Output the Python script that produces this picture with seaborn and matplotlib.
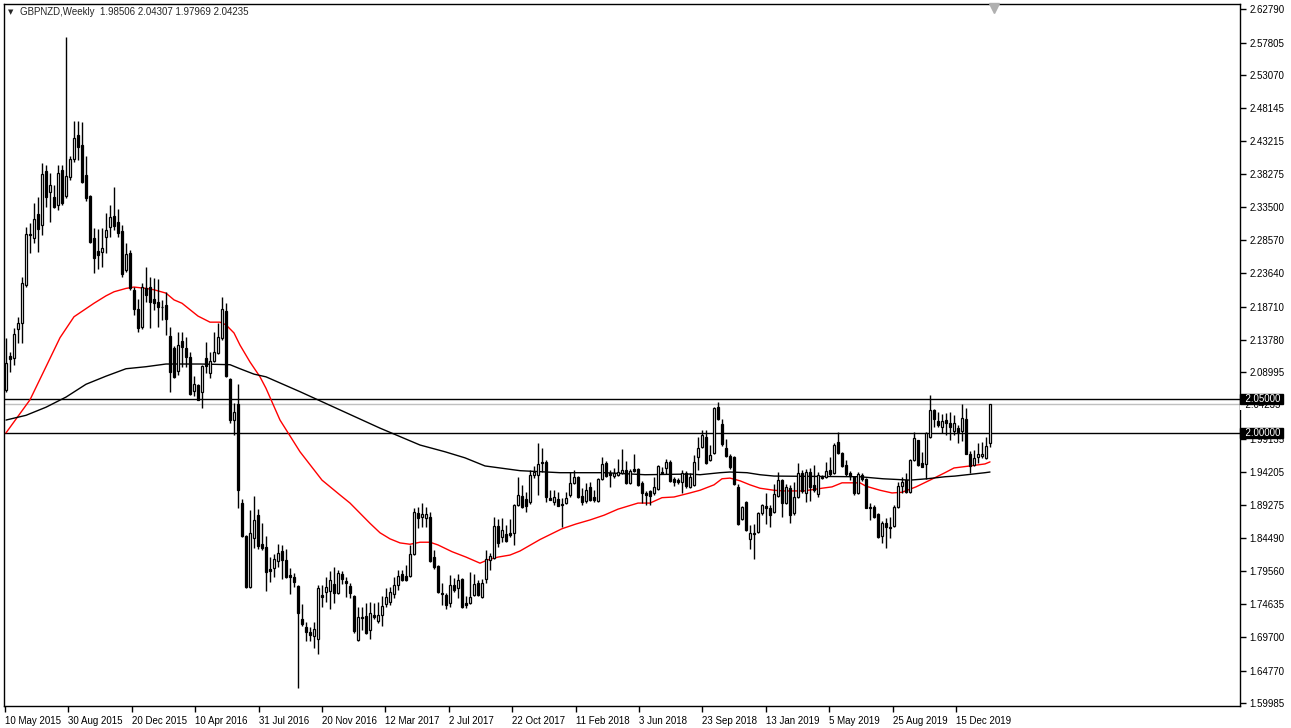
import numpy as np
import matplotlib
matplotlib.use("Agg")
import matplotlib.pyplot as plt
import matplotlib.transforms as mtransforms
import seaborn as sns

# weekly GBPNZD candles, first week 10 May 2015
opens = [
    2.064, 2.114, 2.111, 2.154, 2.163, 2.219, 2.295, 2.289, 2.324, 2.308,
    2.388, 2.357, 2.349, 2.338, 2.389, 2.351, 2.379, 2.406, 2.441, 2.426,
    2.382, 2.351, 2.289, 2.269, 2.268, 2.290, 2.305, 2.321, 2.312, 2.299,
    2.241, 2.266, 2.212, 2.184, 2.157, 2.215, 2.216, 2.198, 2.194, 2.187,
    2.189, 2.144, 2.126, 2.092, 2.136, 2.126, 2.112, 2.062, 2.071, 2.061,
    2.111, 2.089, 2.106, 2.118, 2.141, 2.181, 2.080, 2.019, 2.043, 1.896,
    1.847, 1.772, 1.844, 1.878, 1.835, 1.831, 1.798, 1.800, 1.810, 1.825,
    1.812, 1.790, 1.787, 1.773, 1.724, 1.713, 1.705, 1.699, 1.695, 1.760,
    1.764, 1.766, 1.776, 1.763, 1.791, 1.781, 1.773, 1.758, 1.693, 1.727,
    1.729, 1.708, 1.730, 1.721, 1.730, 1.747, 1.750, 1.761, 1.775, 1.791,
    1.788, 1.788, 1.821, 1.881, 1.875, 1.874, 1.875, 1.816, 1.803, 1.763,
    1.760, 1.748, 1.775, 1.770, 1.784, 1.748, 1.748, 1.760, 1.778, 1.757,
    1.784, 1.812, 1.815, 1.862, 1.846, 1.850, 1.852, 1.852, 1.893, 1.907,
    1.902, 1.898, 1.938, 1.938, 1.957, 1.957, 1.904, 1.898, 1.902, 1.895,
    1.896, 1.908, 1.926, 1.935, 1.907, 1.899, 1.920, 1.905, 1.899, 1.932,
    1.955, 1.941, 1.936, 1.938, 1.941, 1.945, 1.926, 1.946, 1.946, 1.926,
    1.911, 1.914, 1.911, 1.917, 1.942, 1.948, 1.957, 1.932, 1.930, 1.927,
    1.941, 1.920, 1.923, 1.964, 1.979, 1.994, 1.960, 1.970, 2.038, 2.013,
    1.978, 1.966, 1.964, 1.920, 1.872, 1.898, 1.843, 1.852, 1.853, 1.881,
    1.892, 1.889, 1.883, 1.907, 1.930, 1.896, 1.918, 1.881, 1.905, 1.941,
    1.911, 1.942, 1.923, 1.910, 1.935, 1.935, 1.945, 1.941, 1.987, 1.970,
    1.952, 1.941, 1.935, 1.911, 1.938, 1.932, 1.890, 1.890, 1.880, 1.847,
    1.866, 1.861, 1.862, 1.890, 1.921, 1.930, 1.912, 1.960, 1.989, 1.955,
    1.954, 1.994, 2.034, 2.018, 2.009, 2.019, 2.015, 2.003, 2.007, 2.003,
    2.021, 1.969, 1.952, 1.964, 1.966, 1.963, 1.98506,
]
highs = [
    2.141, 2.120, 2.155, 2.172, 2.231, 2.305, 2.311, 2.341, 2.349, 2.400,
    2.397, 2.385, 2.367, 2.397, 2.397, 2.586, 2.410, 2.462, 2.462, 2.461,
    2.410, 2.352, 2.304, 2.302, 2.304, 2.326, 2.338, 2.364, 2.332, 2.308,
    2.281, 2.271, 2.216, 2.198, 2.222, 2.246, 2.231, 2.229, 2.228, 2.197,
    2.209, 2.157, 2.129, 2.149, 2.149, 2.142, 2.120, 2.084, 2.073, 2.101,
    2.135, 2.120, 2.149, 2.163, 2.201, 2.192, 2.081, 2.044, 2.072, 1.902,
    1.848, 1.886, 1.907, 1.887, 1.867, 1.847, 1.816, 1.821, 1.835, 1.834,
    1.828, 1.800, 1.792, 1.775, 1.747, 1.720, 1.713, 1.720, 1.775, 1.775,
    1.787, 1.795, 1.801, 1.797, 1.795, 1.787, 1.778, 1.760, 1.742, 1.742,
    1.748, 1.750, 1.748, 1.750, 1.758, 1.770, 1.772, 1.787, 1.797, 1.797,
    1.804, 1.834, 1.889, 1.890, 1.896, 1.890, 1.883, 1.826, 1.805, 1.778,
    1.763, 1.790, 1.785, 1.791, 1.785, 1.758, 1.794, 1.791, 1.782, 1.784,
    1.826, 1.822, 1.875, 1.872, 1.874, 1.864, 1.872, 1.895, 1.935, 1.923,
    1.913, 1.945, 1.951, 1.985, 1.978, 1.960, 1.915, 1.915, 1.913, 1.904,
    1.913, 1.942, 1.945, 1.936, 1.918, 1.926, 1.927, 1.915, 1.933, 1.964,
    1.958, 1.945, 1.948, 1.961, 1.976, 1.958, 1.946, 1.969, 1.948, 1.928,
    1.914, 1.915, 1.935, 1.952, 1.949, 1.961, 1.960, 1.935, 1.933, 1.945,
    1.943, 1.940, 1.967, 1.994, 2.004, 2.004, 1.982, 2.038, 2.046, 2.021,
    1.991, 1.969, 1.966, 1.924, 1.891, 1.899, 1.864, 1.865, 1.883, 1.895,
    1.911, 1.893, 1.924, 1.942, 1.932, 1.924, 1.923, 1.927, 1.955, 1.945,
    1.946, 1.948, 1.952, 1.942, 1.938, 1.957, 1.964, 1.985, 2.001, 1.972,
    1.960, 1.944, 1.936, 1.942, 1.941, 1.933, 1.896, 1.893, 1.881, 1.869,
    1.874, 1.875, 1.893, 1.927, 1.935, 1.941, 1.961, 2.001, 1.990, 1.972,
    2.001, 2.056, 2.035, 2.031, 2.028, 2.030, 2.031, 2.027, 2.012, 2.043,
    2.037, 1.973, 1.975, 1.985, 1.986, 1.994, 2.04307,
]
lows = [
    2.061, 2.090, 2.101, 2.133, 2.133, 2.216, 2.266, 2.281, 2.268, 2.293,
    2.335, 2.312, 2.333, 2.330, 2.338, 2.348, 2.375, 2.401, 2.404, 2.370,
    2.343, 2.281, 2.237, 2.243, 2.246, 2.266, 2.290, 2.301, 2.290, 2.231,
    2.238, 2.212, 2.175, 2.149, 2.154, 2.194, 2.155, 2.182, 2.157, 2.167,
    2.145, 2.061, 2.081, 2.086, 2.098, 2.098, 2.056, 2.055, 2.048, 2.037,
    2.089, 2.081, 2.105, 2.117, 2.138, 2.083, 2.015, 1.997, 1.889, 1.846,
    1.770, 1.770, 1.829, 1.828, 1.827, 1.766, 1.779, 1.787, 1.801, 1.784,
    1.785, 1.761, 1.772, 1.622, 1.714, 1.692, 1.692, 1.681, 1.672, 1.742,
    1.750, 1.739, 1.748, 1.762, 1.776, 1.757, 1.755, 1.704, 1.692, 1.708,
    1.702, 1.695, 1.725, 1.719, 1.714, 1.742, 1.745, 1.755, 1.767, 1.780,
    1.780, 1.787, 1.819, 1.859, 1.861, 1.861, 1.808, 1.799, 1.763, 1.745,
    1.739, 1.742, 1.765, 1.755, 1.740, 1.741, 1.746, 1.758, 1.759, 1.756,
    1.778, 1.797, 1.813, 1.831, 1.838, 1.838, 1.846, 1.834, 1.891, 1.888,
    1.883, 1.895, 1.933, 1.908, 1.942, 1.898, 1.900, 1.893, 1.891, 1.861,
    1.895, 1.905, 1.924, 1.903, 1.893, 1.896, 1.899, 1.898, 1.898, 1.930,
    1.934, 1.920, 1.933, 1.936, 1.939, 1.924, 1.924, 1.942, 1.921, 1.896,
    1.893, 1.893, 1.908, 1.916, 1.939, 1.939, 1.927, 1.921, 1.924, 1.911,
    1.919, 1.918, 1.922, 1.945, 1.977, 1.954, 1.958, 1.968, 2.019, 1.981,
    1.964, 1.946, 1.923, 1.863, 1.871, 1.855, 1.828, 1.813, 1.851, 1.878,
    1.865, 1.861, 1.881, 1.905, 1.875, 1.894, 1.866, 1.878, 1.903, 1.911,
    1.898, 1.899, 1.913, 1.905, 1.931, 1.933, 1.936, 1.939, 1.969, 1.949,
    1.936, 1.930, 1.908, 1.910, 1.928, 1.888, 1.871, 1.874, 1.845, 1.837,
    1.829, 1.844, 1.860, 1.888, 1.911, 1.911, 1.911, 1.958, 1.951, 1.949,
    1.932, 1.993, 2.009, 2.008, 2.000, 1.997, 1.990, 1.997, 1.985, 1.988,
    1.968, 1.941, 1.951, 1.955, 1.963, 1.961, 1.97969,
]
closes = [
    2.104, 2.110, 2.147, 2.163, 2.222, 2.295, 2.293, 2.317, 2.302, 2.383,
    2.349, 2.367, 2.335, 2.385, 2.341, 2.381, 2.406, 2.437, 2.424, 2.372,
    2.348, 2.283, 2.259, 2.264, 2.274, 2.301, 2.320, 2.306, 2.296, 2.235,
    2.265, 2.215, 2.184, 2.155, 2.216, 2.204, 2.194, 2.192, 2.186, 2.186,
    2.169, 2.090, 2.083, 2.130, 2.127, 2.112, 2.058, 2.072, 2.049, 2.099,
    2.099, 2.106, 2.120, 2.142, 2.184, 2.084, 2.019, 2.031, 1.915, 1.847,
    1.772, 1.852, 1.871, 1.832, 1.829, 1.794, 1.795, 1.813, 1.822, 1.812,
    1.787, 1.787, 1.779, 1.733, 1.717, 1.705, 1.701, 1.709, 1.770, 1.757,
    1.772, 1.782, 1.763, 1.792, 1.784, 1.778, 1.763, 1.707, 1.727, 1.726,
    1.704, 1.733, 1.727, 1.730, 1.743, 1.757, 1.764, 1.775, 1.788, 1.782,
    1.782, 1.821, 1.883, 1.874, 1.880, 1.880, 1.810, 1.801, 1.764, 1.761,
    1.745, 1.775, 1.767, 1.782, 1.742, 1.745, 1.757, 1.776, 1.760, 1.778,
    1.813, 1.818, 1.862, 1.837, 1.856, 1.840, 1.849, 1.893, 1.908, 1.890,
    1.892, 1.938, 1.942, 1.954, 1.956, 1.905, 1.901, 1.905, 1.892, 1.893,
    1.904, 1.926, 1.935, 1.905, 1.898, 1.915, 1.901, 1.901, 1.932, 1.954,
    1.936, 1.938, 1.941, 1.942, 1.945, 1.926, 1.944, 1.944, 1.923, 1.911,
    1.908, 1.906, 1.920, 1.951, 1.941, 1.957, 1.929, 1.927, 1.927, 1.941,
    1.921, 1.935, 1.957, 1.978, 1.997, 1.955, 1.967, 2.037, 2.021, 1.984,
    1.966, 1.950, 1.924, 1.865, 1.890, 1.856, 1.852, 1.850, 1.881, 1.893,
    1.889, 1.878, 1.910, 1.930, 1.896, 1.920, 1.878, 1.905, 1.941, 1.914,
    1.942, 1.920, 1.915, 1.938, 1.933, 1.944, 1.939, 1.982, 1.970, 1.951,
    1.939, 1.936, 1.911, 1.939, 1.932, 1.889, 1.889, 1.875, 1.846, 1.866,
    1.861, 1.859, 1.890, 1.921, 1.927, 1.912, 1.960, 1.992, 1.952, 1.950,
    2.000, 2.034, 2.021, 2.012, 2.018, 2.015, 2.009, 2.015, 2.001, 2.022,
    1.969, 1.951, 1.963, 1.969, 1.969, 1.980, 2.04235,
]

# moving averages (week number, price)
ma_red_week = [0, 6, 10, 13.5, 17, 20, 22, 25, 27, 30, 32, 35, 37, 40, 42, 44, 48, 51,
               53.5, 55, 57, 58.5, 61, 63.5, 65, 68.5, 73.5, 79, 83.5, 86, 88.5,
               91, 93.5, 96, 98.5, 101, 103.5, 106, 108, 111.5, 115, 118.5, 120.5,
               123, 126, 128.5, 133.5, 139, 142.5, 146, 149.5, 153, 158, 161, 164,
               167, 171, 173.5, 177, 179, 181, 183.5, 186, 188.5, 192, 194.5,
               199.5, 204, 206.5, 209, 213.5, 215, 218.5, 221.5, 224, 227.5, 231,
               234.75, 237, 241, 244.75, 246]
ma_red = [2.000, 2.049, 2.098, 2.141, 2.172, 2.184, 2.192, 2.203, 2.209, 2.214,
          2.216, 2.214, 2.212, 2.207, 2.197, 2.192, 2.173, 2.164, 2.164, 2.160,
          2.148, 2.130, 2.105, 2.083, 2.066, 2.019, 1.972, 1.930, 1.908, 1.896,
          1.881, 1.866, 1.852, 1.843, 1.837, 1.835, 1.838, 1.838, 1.834, 1.824,
          1.816, 1.807, 1.812, 1.816, 1.819, 1.825, 1.842, 1.858, 1.865, 1.871,
          1.878, 1.887, 1.896, 1.896, 1.904, 1.905, 1.911, 1.915, 1.923, 1.932,
          1.933, 1.929, 1.923, 1.918, 1.915, 1.914, 1.914, 1.918, 1.920, 1.926,
          1.926, 1.921, 1.915, 1.911, 1.912, 1.920, 1.930, 1.941, 1.948, 1.951,
          1.954, 1.957]
ma_black_week = [0, 5, 10, 15, 20, 25, 30, 35, 40, 48.5, 56, 58.5, 62, 65, 73.5,
                 83.5, 93.5, 103.5, 109.75, 114.75, 119.75, 124.75, 128.5, 138.5,
                 149.75, 159.75, 171, 173.5, 178.5, 181, 185.25, 188.5, 192, 213.5,
                 219.25, 226, 230.25, 234.75, 237.25, 244.75, 246]
ma_black = [2.019, 2.026, 2.038, 2.053, 2.072, 2.084, 2.095, 2.098, 2.102, 2.102,
            2.101, 2.095, 2.087, 2.083, 2.061, 2.034, 2.007, 1.982, 1.972, 1.963,
            1.951, 1.947, 1.944, 1.941, 1.941, 1.938, 1.939, 1.938, 1.941, 1.942,
            1.941, 1.938, 1.936, 1.935, 1.932, 1.930, 1.932, 1.935, 1.936, 1.941,
            1.942]

date_labels = ["10 May 2015", "30 Aug 2015", "20 Dec 2015", "10 Apr 2016",
               "31 Jul 2016", "20 Nov 2016", "12 Mar 2017", "2 Jul 2017",
               "22 Oct 2017", "11 Feb 2018", "3 Jun 2018", "23 Sep 2018",
               "13 Jan 2019", "5 May 2019", "25 Aug 2019", "15 Dec 2019"]
price_ticks = [2.62790, 2.57805, 2.53070, 2.48145, 2.43215, 2.38275, 2.33500,
               2.28570, 2.23640, 2.18710, 2.13780, 2.08995, 1.99135, 1.94205,
               1.89275, 1.84490, 1.79560, 1.74635, 1.69700, 1.64770, 1.59985]
levels = [2.05, 2.00]
bid = 2.04235

sns.set_style("white")
plt.rcParams["font.family"] = ["Liberation Sans", "DejaVu Sans"]

W, H = 1291, 728
fig = plt.figure(figsize=(W / 100, H / 100), dpi=100)
ax = fig.add_axes([4 / W, 22 / H, 1236 / W, 702 / H])

o = np.array(opens)
hi = np.array(highs)
lo = np.array(lows)
c = np.array(closes)
x = np.arange(len(o))
up = c >= o
top = np.maximum(o, c)
bot = np.minimum(o, c)

# wicks, then bodies on top
ax.vlines(x, np.minimum(lo, bot), np.maximum(hi, top), color="black", lw=1, zorder=3)
ax.bar(x[up], (top - bot)[up], bottom=bot[up], width=0.72,
       facecolor="white", edgecolor="black", linewidth=0.9, zorder=4)
ax.bar(x[~up], (top - bot)[~up], bottom=bot[~up], width=0.72,
       facecolor="black", edgecolor="black", linewidth=0.9, zorder=4)

sns.lineplot(x=ma_red_week, y=ma_red, color="red", lw=1, ax=ax,
             estimator=None, sort=False, zorder=2)
sns.lineplot(x=ma_black_week, y=ma_black, color="black", lw=1, ax=ax,
             estimator=None, sort=False, zorder=2)

for lv in levels:
    ax.axhline(lv, color="black", lw=1, zorder=1)
ax.axhline(bid, color="#c0c0c0", lw=1, zorder=1)

ax.set_xlim(-0.5, 308.5)
ax.set_ylim(1.5954, 2.6353)

# price scale on the right
ax.yaxis.tick_right()
ax.set_yticks(price_ticks)
ax.set_yticklabels([f"{v:.5f}" for v in price_ticks])
ax.tick_params(axis="y", direction="out", length=4, width=1, labelsize=7, pad=3,
               colors="black", right=True, left=False)

# date scale
ax.set_xticks(np.linspace(-0.25, 237.5, len(date_labels)))
ax.set_xticklabels(date_labels, ha="left")
ax.tick_params(axis="x", direction="out", length=4, width=1, labelsize=7, pad=3,
               colors="black", bottom=True)

for s in ax.spines.values():
    s.set_color("black")
    s.set_linewidth(1)

trans = mtransforms.blended_transform_factory(ax.transAxes, ax.transData)
ax.text(1.0, bid - 0.0012, "  2.04235", transform=trans, fontsize=7, va="center",
        ha="left", color="black", zorder=9, clip_on=False,
        bbox=dict(boxstyle="square,pad=0.0", fc="white", ec="none"))
for lv in levels:
    ax.text(1.0, lv, f"  {lv:.5f} ", transform=trans, fontsize=7, va="center",
            ha="left", color="white", zorder=10, clip_on=False,
            bbox=dict(boxstyle="square,pad=0.02", fc="black", ec="black"))

# header and chart shift marker
fig.text(8 / W, 1 - 12 / H, "\u25bc", fontsize=5, va="center", ha="left",
         family="DejaVu Sans")
fig.text(20 / W, 1 - 12 / H, "GBPNZD,Weekly  1.98506 2.04307 1.97969 2.04235",
         fontsize=7, va="center", ha="left")
ax.plot([247], [0.995], marker="v", markersize=7, color="#b0b0b0",
        transform=mtransforms.blended_transform_factory(ax.transData, ax.transAxes),
        clip_on=False, zorder=6)

fig.savefig("out.png", dpi=100, facecolor="white")
